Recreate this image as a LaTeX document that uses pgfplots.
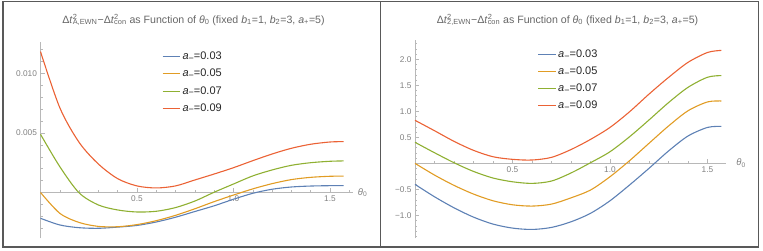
\documentclass[border=0pt]{standalone}
\usepackage{pgfplots}
\pgfplotsset{compat=1.18}
\usepackage{fontspec}
\setmainfont{Liberation Sans}
\definecolor{mblue}{rgb}{0.368417,0.506779,0.709798}
\definecolor{morange}{rgb}{0.880722,0.611041,0.142051}
\definecolor{mgreen}{rgb}{0.560181,0.691569,0.194885}
\definecolor{mred}{rgb}{0.922526,0.385626,0.209179}
\definecolor{axgray}{gray}{0.72}
\definecolor{ticktext}{gray}{0.5}
\definecolor{titlegray}{gray}{0.4}
\definecolor{framegray}{gray}{0.35}
\newcommand{\am}{\textit{a}\raisebox{-1.7pt}{\fontsize{9}{9}\selectfont −}}

\pgfplotsset{
  mstyle/.style={
    scale only axis, axis lines=middle, axis line style={-, axgray, line width=0.6pt},
    enlargelimits=false, clip=false,
    tick align=inside, major tick length=4pt, minor tick length=2.2pt,
    every tick/.style={axgray, line width=0.5pt},
    tick label style={font=\fontsize{8.3}{9}\selectfont, text=ticktext},
    legend style={draw=none, fill=none, font=\fontsize{11}{12}\selectfont, row sep=4pt,
      anchor=north west, inner sep=0pt, legend cell align=left, text=black!85},
    legend image code/.code={\draw[##1, line width=0.9pt] (0pt,0pt) -- (17.5pt,0pt);},
  }
}

\begin{document}
\begin{tikzpicture}[x=1pt,y=1pt]
\useasboundingbox (0,0) rectangle (763,251);
\draw[framegray, line width=1.1pt] (3,249.3) rectangle (380.5,4);
\draw[framegray, line width=1.1pt] (380.5,249.3) rectangle (758.3,4);

\node[text=titlegray, font=\fontsize{10.6}{12}\selectfont] at (193.5,231)
  {Δ\textit{t}\rlap{\textsuperscript{2}}\textsubscript{A,EWN}−Δ\textit{t}\rlap{\textsuperscript{2}}\textsubscript{con} as Function of \textit{θ}\textsubscript{0} (fixed \textit{b}\textsubscript{1}=1, \textit{b}\textsubscript{2}=3, \textit{a}\textsubscript{+}=5)};
\node[text=titlegray, font=\fontsize{10.6}{12}\selectfont] at (567.5,231)
  {Δ\textit{t}\rlap{\textsuperscript{2}}\textsubscript{2,EWN}−Δ\textit{t}\rlap{\textsuperscript{2}}\textsubscript{con} as Function of \textit{θ}\textsubscript{0} (fixed \textit{b}\textsubscript{1}=1, \textit{b}\textsubscript{2}=3, \textit{a}\textsubscript{+}=5)};

% ---------- left panel ----------
\begin{axis}[mstyle,
  at={(40.5pt,12.7pt)}, anchor=south west,
  width=312.2pt, height=196.3pt,
  xmin=0, xmax=1.618, ymin=-0.00385, ymax=0.01264,
  xtick={0.5,1,1.5}, xticklabels={0.5,1.0,1.5},
  ytick={0.005,0.01}, yticklabels={0.005,0.010},
  minor xtick={0.1,0.2,0.3,0.4,0.6,0.7,0.8,0.9,1.1,1.2,1.3,1.4,1.6},
  minor ytick={-0.003,-0.002,-0.001,0.001,0.002,0.003,0.004,0.006,0.007,0.008,0.009,0.011,0.012},
  scaled y ticks=false,
  legend style={at={(axis description cs:0.389,0.96)}},
]
\addplot[mblue, line width=1.1pt, smooth] table {
x y
0.0 -0.00217
0.1 -0.00273
0.2 -0.00296
0.3 -0.00301
0.4 -0.00291
0.5 -0.00277
0.6 -0.00248
0.7 -0.00208
0.8 -0.00160
0.9 -0.00112
1.0 -0.00057
1.1 -0.00007
1.2 0.00027
1.3 0.00046
1.4 0.00054
1.5 0.00057
1.5708 0.00057
};
\addlegendentry{\am=0.03}
\addplot[morange, line width=1.1pt, smooth] table {
x y
0.0 0.00000
0.1 -0.00175
0.2 -0.00252
0.3 -0.00285
0.4 -0.00288
0.5 -0.00270
0.6 -0.00237
0.7 -0.00192
0.8 -0.00137
0.9 -0.00077
1.0 -0.00022
1.1 0.00030
1.2 0.00074
1.3 0.00108
1.4 0.00127
1.5 0.00136
1.5708 0.00137
};
\addlegendentry{\am=0.05}
\addplot[mgreen, line width=1.1pt, smooth] table {
x y
0.0 0.00489
0.1 0.00217
0.2 -0.00003
0.3 -0.00105
0.4 -0.00147
0.5 -0.00164
0.6 -0.00158
0.7 -0.00127
0.8 -0.00072
0.9 0.00002
1.0 0.00071
1.1 0.00139
1.2 0.00189
1.3 0.00228
1.4 0.00250
1.5 0.00262
1.5708 0.00265
};
\addlegendentry{\am=0.07}
\addplot[mred, line width=1.1pt, smooth] table {
x y
0.0 0.01183
0.1 0.00712
0.2 0.00421
0.3 0.00239
0.4 0.00116
0.5 0.00055
0.6 0.00038
0.7 0.00055
0.8 0.00105
0.9 0.00155
1.0 0.00208
1.1 0.00267
1.2 0.00323
1.3 0.00371
1.4 0.00405
1.5 0.00424
1.5708 0.00427
};
\addlegendentry{\am=0.09}
\node[anchor=west, inner sep=0pt, text=ticktext, font=\fontsize{9.5}{10}\selectfont] at (axis cs:1.618,0) {\hspace{5pt}\textit{θ}\textsubscript{0}};
\end{axis}

% ---------- right panel ----------
\begin{axis}[mstyle,
  at={(415pt,12.7pt)}, anchor=south west,
  width=311.2pt, height=198.3pt,
  xmin=0, xmax=1.596, ymin=-1.44, ymax=2.37,
  xtick={0.5,1,1.5}, xticklabels={0.5,1.0,1.5},
  ytick={-1,-0.5,0.5,1,1.5,2}, yticklabels={−1.0,−0.5,0.5,1.0,1.5,2.0},
  minor xtick={0.1,0.2,0.3,0.4,0.6,0.7,0.8,0.9,1.1,1.2,1.3,1.4},
  minor ytick={-1.4,-1.3,-1.2,-1.1,-0.9,-0.8,-0.7,-0.6,-0.4,-0.3,-0.2,-0.1,0.1,0.2,0.3,0.4,0.6,0.7,0.8,0.9,1.1,1.2,1.3,1.4,1.6,1.7,1.8,1.9,2.1,2.2,2.3},
  legend style={at={(axis description cs:0.394,0.962)}},
]
\addplot[mblue, line width=1.1pt, smooth] table {
x y
0.0 -0.404
0.1 -0.642
0.2 -0.854
0.3 -1.033
0.4 -1.167
0.5 -1.244
0.6 -1.270
0.7 -1.231
0.8 -1.123
0.9 -0.960
1.0 -0.719
1.1 -0.417
1.2 -0.096
1.3 0.237
1.4 0.525
1.5 0.690
1.5708 0.710
};
\addlegendentry{\am=0.03}
\addplot[morange, line width=1.1pt, smooth] table {
x y
0.0 0.000
0.1 -0.225
0.2 -0.423
0.3 -0.590
0.4 -0.719
0.5 -0.796
0.6 -0.821
0.7 -0.783
0.8 -0.663
0.9 -0.513
1.0 -0.257
1.1 0.050
1.2 0.385
1.3 0.717
1.4 1.010
1.5 1.180
1.5708 1.198
};
\addlegendentry{\am=0.05}
\addplot[mgreen, line width=1.1pt, smooth] table {
x y
0.0 0.404
0.1 0.204
0.2 0.012
0.3 -0.155
0.4 -0.282
0.5 -0.354
0.6 -0.385
0.7 -0.340
0.8 -0.185
0.9 0.012
1.0 0.223
1.1 0.510
1.2 0.833
1.3 1.166
1.4 1.460
1.5 1.654
1.5708 1.686
};
\addlegendentry{\am=0.07}
\addplot[mred, line width=1.1pt, smooth] table {
x y
0.0 0.827
0.1 0.627
0.2 0.423
0.3 0.250
0.4 0.127
0.5 0.077
0.6 0.064
0.7 0.115
0.8 0.265
0.9 0.460
1.0 0.690
1.1 0.990
1.2 1.330
1.3 1.650
1.4 1.940
1.5 2.130
1.5708 2.170
};
\addlegendentry{\am=0.09}
\node[anchor=west, inner sep=0pt, text=ticktext, font=\fontsize{9.5}{10}\selectfont] at (axis cs:1.596,0) {\hspace{10pt}\textit{θ}\textsubscript{0}};
\end{axis}
\end{tikzpicture}
\end{document}
